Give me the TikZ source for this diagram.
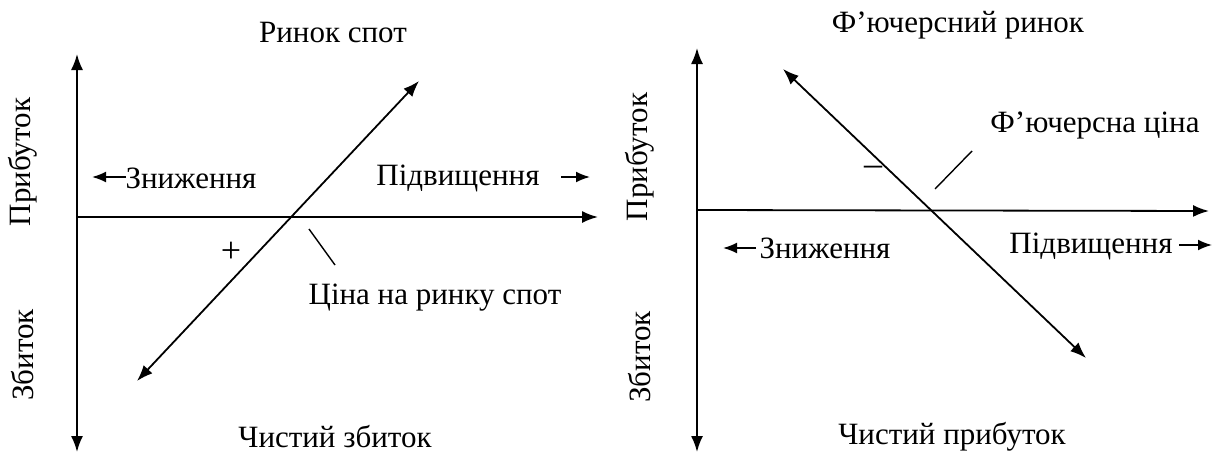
\documentclass[tikz,border=0pt]{standalone}
\usepackage{fontspec}
\setmainfont{Liberation Serif}
\usetikzlibrary{arrows.meta}
\begin{document}
\begin{tikzpicture}[x=1pt,y=-1pt,
  tip/.style={-{Latex[length=16pt,width=12pt]}},
  axis/.style={line width=1.8pt,tip},
  diag/.style={line width=1.8pt,{Latex[length=16pt,width=12pt]}-{Latex[length=16pt,width=12pt]}},
  small/.style={line width=1.8pt,-{Latex[length=14pt,width=11pt]}},
  lead/.style={line width=1.4pt},
  lbl/.style={font=\fontsize{31}{36}\selectfont,inner sep=0pt},
  sign/.style={font=\fontsize{36}{40}\selectfont,inner sep=0pt},
  vlbl/.style={lbl,rotate=90}]
\useasboundingbox (0,0) rectangle (1216,455);
% ---------- left diagram ----------
\coordinate (LVtop) at (77,54);
\coordinate (LVbot) at (77,452);
\coordinate (LVmid) at (77,217);
\coordinate (LHend) at (598,217);
\coordinate (LDa) at (137,381);
\coordinate (LDb) at (419,81);
\draw[axis] (LVmid) -- (LVtop);
\draw[axis] (LVmid) -- (LVbot);
\draw[axis] (LVmid) -- (LHend);
\draw[diag] (LDa) -- (LDb);
\node[lbl] (Ltitle) at (333,33) {Ринок спот};
\node[lbl] (Lbottom) at (335,437) {Чистий збиток};
\node[vlbl] (Lprofit) at (23,162) {Прибуток};
\node[vlbl] (Lloss) at (23,355) {Збиток};
\node[lbl] (Ldown) at (191,178) {Зниження};
\coordinate (LdownTail) at (126,177);
\coordinate (LdownTip) at (92,177);
\draw[small] (LdownTail) -- (LdownTip);
\node[lbl] (Lup) at (458,178) {Підвищення};
\coordinate (LupTail) at (561,177);
\coordinate (LupTip) at (590,177);
\draw[small] (LupTail) -- (LupTip);
\node[sign] (Lplus) at (231,252) {+};
\coordinate (LleadA) at (309,229);
\coordinate (LleadB) at (335,265);
\draw[lead] (LleadA) -- (LleadB);
\node[lbl] (Lprice) at (435,298) {Ціна на ринку спот};
% ---------- right diagram ----------
\coordinate (RVtop) at (697,48);
\coordinate (RVbot) at (697,452);
\coordinate (RVmid) at (697,210);
\coordinate (RHend) at (1209,211);
\coordinate (RDa) at (783,69);
\coordinate (RDb) at (1086,358);
\draw[axis] (RVmid) -- (RVtop);
\draw[axis] (RVmid) -- (RVbot);
\draw[axis] (RVmid) -- (RHend);
\draw[diag] (RDa) -- (RDb);
\node[lbl] (Rtitle) at (958,25) {Ф’ючерсний ринок};
\node[lbl] (Rbottom) at (952,437) {Чистий прибуток};
\node[vlbl] (Rprofit) at (640,157) {Прибуток};
\node[vlbl] (Rloss) at (640,357) {Збиток};
\node[lbl] (Rdown) at (825,248) {Зниження};
\coordinate (RdownTail) at (756,248);
\coordinate (RdownTip) at (723,248);
\draw[small] (RdownTail) -- (RdownTip);
\node[lbl] (Rup) at (1091,246) {Підвищення};
\coordinate (RupTail) at (1179,245);
\coordinate (RupTip) at (1212,245);
\draw[small] (RupTail) -- (RupTip);
\node[sign] (Rminus) at (873,171) {–};
\coordinate (RleadA) at (935,189);
\coordinate (RleadB) at (972,151);
\draw[lead] (RleadA) -- (RleadB);
\node[lbl] (Rprice) at (1095,125) {Ф’ючерсна ціна};
\end{tikzpicture}
\end{document}
